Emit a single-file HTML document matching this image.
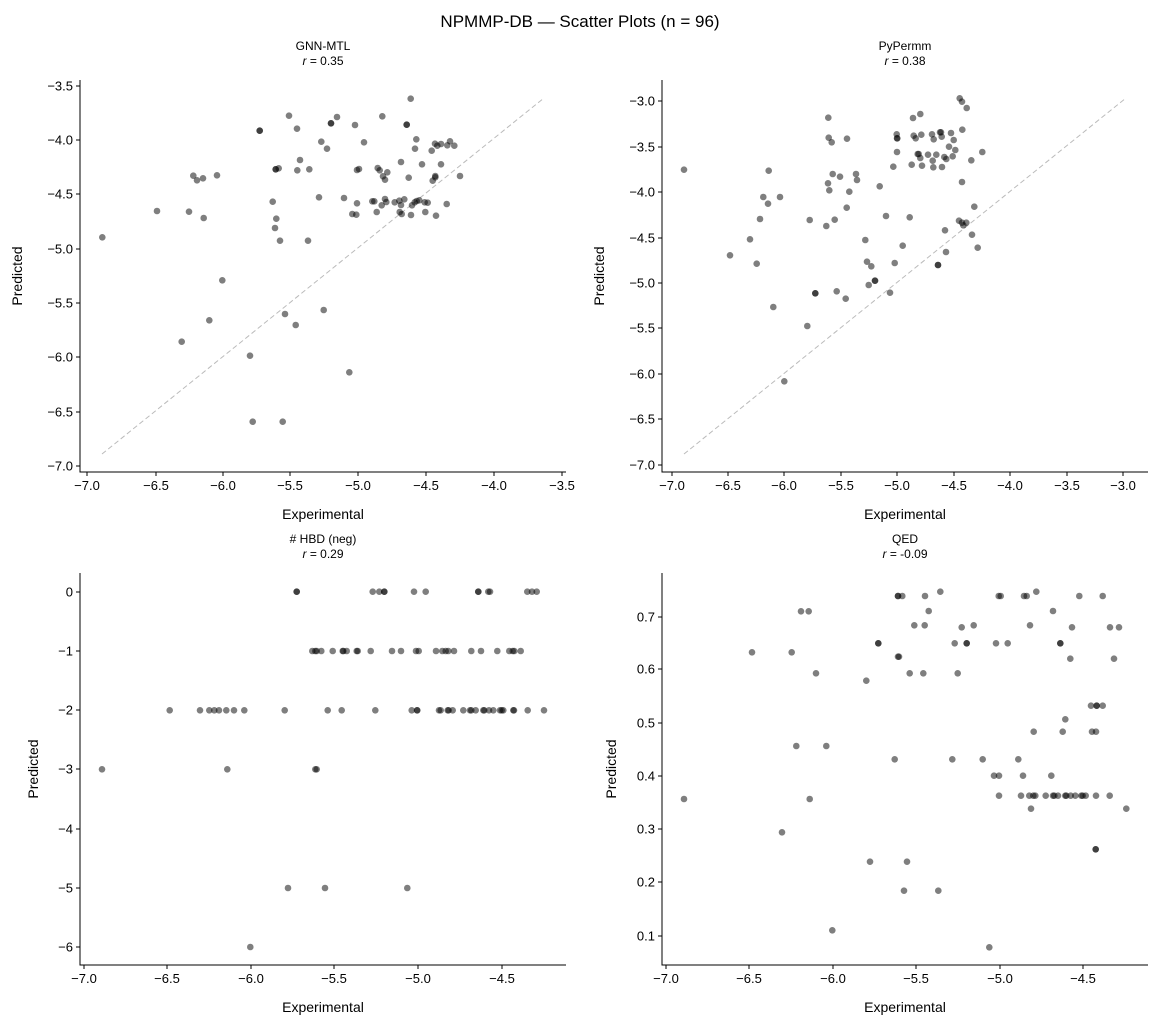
<!DOCTYPE html>
<html><head><meta charset="utf-8"><style>
html,body{margin:0;padding:0;background:#fff;}
svg{display:block;font-family:"Liberation Sans",Arial,sans-serif;}
</style></head><body>
<svg id="s" width="1161" height="1028" xmlns="http://www.w3.org/2000/svg">
<rect width="1161" height="1028" fill="#fff"/>
<text x="580" y="27" text-anchor="middle" font-size="17" fill="#000">NPMMP-DB — Scatter Plots  (n = 96)</text>
<g id="g"></g>
</svg>
<script>
var g=document.getElementById('g');var h='';
function T(x,y,t,a,fs,extra){h+='<text x="'+x+'" y="'+y+'" text-anchor="'+(a||'middle')+'" font-size="'+(fs||13)+'" '+(extra||'')+'>'+t+'</text>';}
function L(x1,y1,x2,y2,st){h+='<line x1="'+x1+'" y1="'+y1+'" x2="'+x2+'" y2="'+y2+'" '+(st||'stroke="#000" stroke-width="1"')+'/>';}
function P(x,y){h+='<circle cx="'+x.toFixed(1)+'" cy="'+y.toFixed(1)+'" r="3.3" fill="#000" fill-opacity="0.5"/>';}
function axes(x0,yTop,yBot,xR,xt,yt,title,r,ylx){
 L(x0,yTop,x0,yBot+0.5);L(x0-0.5,yBot,xR,yBot);
 xt.forEach(function(t){L(t[0],yBot,t[0],yBot+4);T(t[0],yBot+18,t[1]);});
 yt.forEach(function(t){L(x0-4,t[0],x0,t[0]);T(x0-7,t[0]+4.5,t[1],'end');});
 T((x0+xR)/2,yBot+47,'Experimental','middle',14);
 h+='<text transform="translate('+ylx+','+((yTop+yBot)/2)+') rotate(-90)" text-anchor="middle" font-size="14">Predicted</text>';
 T((x0+xR)/2,yTop-30,title,'middle',12);
 T((x0+xR)/2,yTop-15,'<tspan font-style="italic">r</tspan> = '+r,'middle',12);
}
// Panel 1
axes(80,80,472,566,[[87,'−7.0'],[156,'−6.5'],[223,'−6.0'],[290,'−5.5'],[358,'−5.0'],[426,'−4.5'],[494,'−4.0'],[562,'−3.5']],
 [[86,'−3.5'],[140,'−4.0'],[194,'−4.5'],[249,'−5.0'],[303,'−5.5'],[357,'−6.0'],[412,'−6.5'],[466,'−7.0']],'GNN-MTL','0.35',22);
L(102,454,544,98,'stroke="#bbb" stroke-width="1" stroke-dasharray="5,3"');
var p1=[[67,472],[231,393],[327,395],[371,414],[340,287],[351,301],[369,295],[411,286],[427,601],[388,721],[305,785],[510,827],[518,1025],[608,1025],[539,152],[539,152],[627,107],[651,146],[587,268],[587,268],[596,265],[652,271],[660,240],[688,268],[724,185],[741,206],[753,130],[753,130],[771,111],[825,135],[852,187],[831,270],[837,267],[907,109],[980,134],[980,134],[992,56],[1009,178],[1005,206],[963,246],[1026,253],[986,293],[893,264],[899,271],[922,277],[909,289],[915,299],[1055,212],[1065,191],[1072,197],[1083,192],[1102,196],[1110,184],[1123,197],[1083,253],[1066,288],[1066,292],[1058,302],[1140,288],[578,365],[589,416],[585,444],[600,482],[684,482],[717,352],[792,354],[831,370],[817,402],[829,404],[877,364],[883,364],[890,396],[905,376],[915,357],[919,366],[944,367],[958,362],[963,375],[973,358],[959,396],[965,402],[993,405],[996,376],[1004,367],[1010,363],[1018,361],[1034,367],[1043,368],[1036,396],[1068,407],[1100,372],[615,702],[647,735],[731,690],[808,877]];
p1.forEach(function(p){P(p[0]/3+80,p[1]/3+80);});
// Panel 2
axes(662,80,472,1148,[[672,'−7.0'],[728,'−6.5'],[784,'−6.0'],[841,'−5.5'],[897,'−5.0'],[954,'−4.5'],[1010,'−4.0'],[1067,'−3.5'],[1123,'−3.0']],
 [[101,'−3.0'],[147,'−3.5'],[192,'−4.0'],[238,'−4.5'],[283,'−5.0'],[328,'−5.5'],[374,'−6.0'],[419,'−6.5'],[465,'−7.0']],'PyPermm','0.38',604);
L(684,454,1126,98,'stroke="#bbb" stroke-width="1" stroke-dasharray="5,3"');
var p2=[[72,269],[210,526],[270,478],[290,551],[300,417],[310,351],[324,371],[326,272],[340,681],[360,351],[373,904],[442,738],[449,420],[466,640],[466,640],[499,438],[505,113],[506,173],[515,187],[504,310],[508,331],[518,282],[524,419],[530,634],[540,290],[557,656],[560,383],[561,176],[568,335],[588,282],[591,300],[616,480],[621,545],[626,615],[634,559],[645,602],[645,602],[659,319],[678,408],[690,638],[700,260],[704,549],[710,163],[712,175],[711,175],[711,216],[728,497],[749,412],[755,254],[759,114],[761,167],[767,175],[773,222],[776,222],[781,234],[781,102],[784,164],[786,257],[804,224],[816,163],[818,242],[821,178],[820,262],[829,224],[834,555],[834,555],[840,157],[843,157],[845,170],[846,261],[853,231],[855,451],[859,237],[858,516],[867,200],[873,159],[878,229],[881,180],[886,210],[897,422],[899,55],[906,65],[907,149],[906,306],[906,428],[910,436],[919,428],[920,84],[934,241],[936,464],[943,380],[953,503],[967,216]];
p2.forEach(function(p){P(p[0]/3+660,p[1]/3+80);});
// Panel 3
axes(80,573,965,566,[[84,'−7.0'],[167,'−6.5'],[251,'−6.0'],[334,'−5.5'],[418,'−5.0'],[502,'−4.5']],
 [[592,'0'],[651,'−1'],[710,'−2'],[769,'−3'],[829,'−4'],[888,'−5'],[947,'−6']],'# HBD (neg)','0.29',38);
var rows={65:[650,650,878,898,913,913,1002,1037,1195,1195,1225,1230,1342,1356,1370],
243:[697,706,710,724,758,788,790,800,830,833,872,936,963,1008,1016,1068,1087,1097,1105,1122,1174,1203,1252,1288,1298,1303,1322],
421:[269,360,388,403,417,439,462,493,614,743,785,886,995,1011,1012,1077,1082,1103,1106,1118,1150,1170,1174,1187,1210,1213,1227,1240,1260,1265,1270,1300,1302,1343,1392],
598:[66,442,706,710],954:[624,735,982],1131:[511]};
for(var k in rows){rows[k].forEach(function(x){P(x/3+80,k/3+570);});}
// Panel 4
axes(662,573,965,1148,[[666,'−7.0'],[749,'−6.5'],[833,'−6.0'],[916,'−5.5'],[1000,'−5.0'],[1083,'−4.5']],
 [[617,'0.7'],[669,'0.6'],[723,'0.5'],[776,'0.4'],[829,'0.3'],[882,'0.2'],[936,'0.1']],'QED','-0.09',616);
var p4=[[714,78],[714,78],[727,78],[795,78],[841,65],[1016,78],[1022,78],[1092,78],[1100,78],[1129,65],[1258,78],[1328,78],[423,124],[446,124],[806,123],[1179,123],[763,166],[794,166],[905,172],[941,166],[1110,166],[1236,172],[1350,172],[1377,172],[655,220],[655,220],[884,220],[920,220],[920,220],[1008,220],[1043,220],[1201,220],[1201,220],[276,247],[395,247],[714,260],[717,260],[1231,266],[1362,266],[468,310],[749,310],[790,310],[893,310],[619,332],[1293,407],[1310,407],[1310,407],[1328,407],[1216,448],[1121,485],[1208,485],[1296,485],[1308,485],[409,528],[499,528],[704,568],[877,568],[968,568],[1075,568],[1002,617],[1017,617],[1089,617],[1174,617],[72,687],[449,687],[1017,677],[1083,677],[1108,677],[1120,677],[1126,677],[1157,677],[1179,677],[1183,677],[1194,677],[1216,677],[1219,677],[1232,677],[1246,677],[1264,677],[1268,677],[1277,677],[1308,677],[1349,677],[1113,716],[1399,716],[366,787],[1307,838],[1307,838],[630,875],[741,875],[732,962],[835,962],[517,1081],[988,1132]];
p4.forEach(function(p){P(p[0]/3+660,p[1]/3+570);});
g.innerHTML=h;
</script>
</body></html>
